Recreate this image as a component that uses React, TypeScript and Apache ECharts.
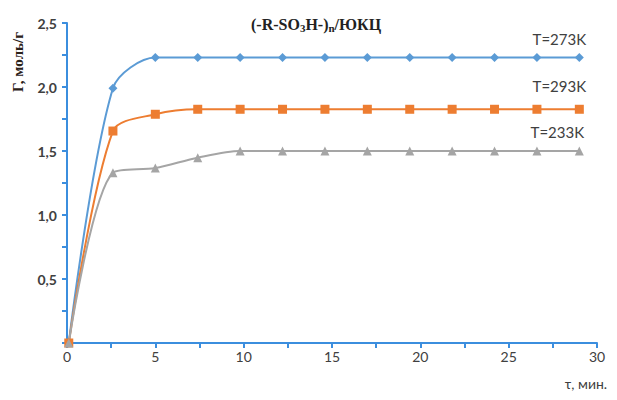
import React, { useEffect, useRef } from "react";
import * as echarts from "echarts";

// Sorption time, min
const timeMin = [0.1, 2.6, 5.0, 7.4, 9.8, 12.2, 14.6, 17.0, 19.4, 21.8, 24.2, 26.6, 29.0];
// Sorption capacity Г, mol/g, per temperature
const t273 = [0, 1.99, 2.23, 2.23, 2.23, 2.23, 2.23, 2.23, 2.23, 2.23, 2.23, 2.23, 2.23];
const t293 = [0, 1.656, 1.787, 1.826, 1.826, 1.826, 1.826, 1.826, 1.826, 1.826, 1.826, 1.826, 1.826];
const t233 = [0, 1.33, 1.367, 1.448, 1.5, 1.5, 1.5, 1.5, 1.5, 1.5, 1.5, 1.5, 1.5];
const seriesNames = ["T=273K", "T=293K", "T=233K"];

const AXIS = "#3b8ede";
const LABEL_FONT = "Lato, 'Open Sans', sans-serif";

function build(values: number[], name: string, color: string, symbol: string, size: number, labelOffset: number[]) {
  const data = values.map((v, i) => {
    const item: any = { value: [timeMin[i], v] };
    if (i === values.length - 1) {
      item.label = {
        show: true,
        position: "top",
        offset: labelOffset,
        formatter: name,
        color: "#404040",
        fontSize: 15,
        fontFamily: LABEL_FONT,
      };
    }
    return item;
  });
  return {
    type: "line",
    name,
    data,
    smooth: 0.3,
    symbol,
    symbolSize: size,
    showSymbol: true,
    lineStyle: { color, width: 2 },
    itemStyle: { color },
    z: 3,
  };
}

export default function App() {
  const ref = useRef<HTMLDivElement>(null);
  useEffect(() => {
    if (!ref.current) return;
    const chart = echarts.init(ref.current, undefined, { renderer: "svg" });
    chart.setOption({
      animation: false,
      backgroundColor: "#ffffff",
      title: {
        left: 246,
        top: 11,
        text: "{a|(-R-SO}{s|3}{a|H-)}{s|n}{a|/ЮКЦ}",
        textStyle: {
          rich: {
            a: { fontFamily: "'Liberation Serif', serif", fontWeight: "bold", fontSize: 16, color: "#222" },
            s: { fontFamily: "'Liberation Serif', serif", fontWeight: "bold", fontSize: 11, color: "#222", padding: [6, 0, 0, 0] },
          },
        },
      },
      grid: { left: 67, right: 20, top: 23, bottom: 57 },
      xAxis: {
        type: "value",
        min: 0,
        max: 30,
        interval: 5,
        axisLine: { show: true, lineStyle: { color: AXIS, width: 2 } },
        axisTick: { show: true, length: 5, lineStyle: { color: AXIS, width: 2 } },
        minorTick: { show: true, splitNumber: 2, length: 5, lineStyle: { color: AXIS, width: 2 } },
        splitLine: { show: false },
        axisLabel: { color: "#404040", fontSize: 14, fontFamily: LABEL_FONT, margin: 6 },
      },
      yAxis: {
        type: "value",
        min: 0,
        max: 2.5,
        interval: 0.5,
        axisLine: { show: true, lineStyle: { color: AXIS, width: 2 } },
        axisTick: { show: true, length: 5, lineStyle: { color: AXIS, width: 2 } },
        minorTick: { show: true, splitNumber: 2, length: 5, lineStyle: { color: AXIS, width: 2 } },
        splitLine: { show: false },
        axisLabel: {
          color: "#404040",
          fontSize: 14,
          fontWeight: "bold",
          fontFamily: LABEL_FONT,
          margin: 10,
          formatter: (v: number) => (v === 0 ? "" : v.toFixed(1).replace(".", ",")),
        },
      },
      graphic: [
        {
          type: "text",
          x: 18,
          y: 62,
          rotation: Math.PI / 2,
          style: {
            text: "Г, моль/г",
            font: "bold 15px 'Liberation Serif', serif",
            fill: "#2a2018",
            align: "center",
            verticalAlign: "middle",
          },
        },
        {
          type: "text",
          x: 586,
          y: 383,
          style: {
            text: "τ, мин.",
            font: `14px ${LABEL_FONT}`,
            fill: "#404040",
            align: "center",
            verticalAlign: "middle",
          },
        },
      ],
      series: [
        build(t273, seriesNames[0], "#5b9bd5", "diamond", 9, [-20, -2]),
        build(t293, seriesNames[1], "#ed7d31", "rect", 9, [-20, -6]),
        build(t233, seriesNames[2], "#a5a5a5", "triangle", 9, [-22, -2]),
      ],
    });
    return () => chart.dispose();
  }, []);
  return <div ref={ref} style={{ width: 617, height: 400, margin: -8 }} />;
}
